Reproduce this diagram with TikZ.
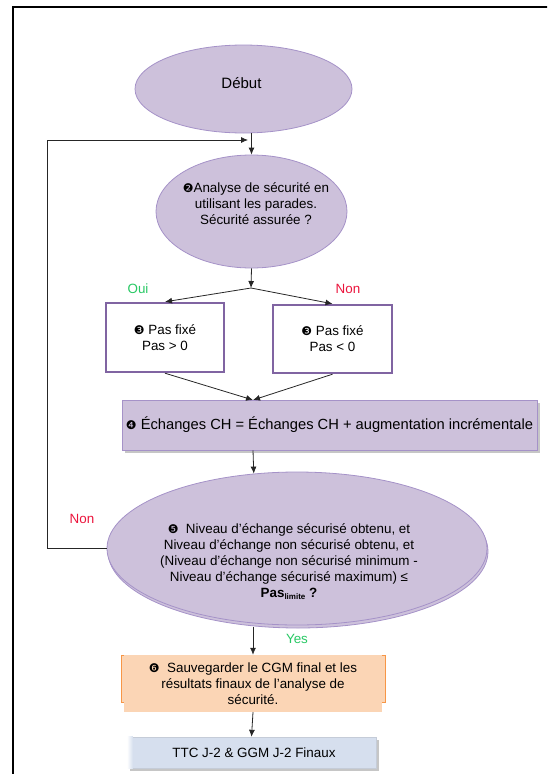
\documentclass[tikz,border=0pt]{standalone}
\usepackage{fontspec}
\setmainfont{Liberation Sans}
\newfontfamily\dingf{DejaVu Sans}
\usetikzlibrary{arrows.meta,shapes.geometric,shadows}

\definecolor{lavfill}{RGB}{205,193,219}
\definecolor{lavedge}{RGB}{165,146,200}
\definecolor{purpedge}{RGB}{128,100,162}
\definecolor{peach}{RGB}{251,213,181}
\definecolor{orangeedge}{RGB}{247,150,70}
\definecolor{bluefill}{RGB}{214,223,238}
\definecolor{ouigreen}{RGB}{40,200,100}
\definecolor{nonred}{RGB}{235,20,60}

\newcommand{\dnum}[1]{{\dingf\fontsize{12}{12}\selectfont #1}}

\tikzset{
  oval/.style={ellipse, draw=lavedge, fill=lavfill, line width=0.8pt, inner sep=0pt},
  txt/.style={align=center, inner sep=0pt, font=\fontsize{13.4}{16}\selectfont},
  stepbox/.style={rectangle, draw=purpedge, fill=white, line width=2.4pt, inner sep=0pt,
    align=center, font=\fontsize{13.4}{16}\selectfont},
  wide/.style={rectangle, draw=lavedge, fill=lavfill, line width=0.6pt, inner sep=0pt,
    font=\fontsize{14.7}{17}\selectfont,
    drop shadow={shadow xshift=2.5pt, shadow yshift=-2.5pt, opacity=0.45, fill=gray}},
  arr/.style={draw=black!85, line width=0.8pt, -{Latex[length=7pt,width=6pt]}},
  lbl/.style={inner sep=0pt, font=\fontsize{13.4}{16}\selectfont}
}

\begin{document}
\begin{tikzpicture}[x=1pt,y=-1pt]
\useasboundingbox (0,0) rectangle (547,774);
\clip (0,0) rectangle (547,774);

% page frame
\draw[line width=1.6pt] (13,800) -- (13,7) -- (570,7);

% start
\node[oval, minimum width=217pt, minimum height=88pt] (deb) at (243.5,89) {};
\node[txt, font=\fontsize{15}{17}\selectfont] (debtxt) at (241.5,83) {Début};

% security analysis
\node[oval, minimum width=191pt, minimum height=113pt] (e2) at (251.5,211.5) {};
\node[txt] (e2txt) at (256,204) {\dnum{❷}Analyse de sécurité en\\utilisant les parades.\\Sécurité assurée ?};

% fixed steps
\node[stepbox, minimum width=118pt, minimum height=69pt] (s3a) at (165,337.5)
  {\dnum{❸} Pas fixé\\Pas > 0};
\node[stepbox, minimum width=119pt, minimum height=68pt] (s3b) at (332.5,339)
  {\dnum{❸} Pas fixé\\Pas < 0};

% exchange update
\node[wide, minimum width=415pt, minimum height=50pt] (b4) at (329.5,425)
  {\dnum{❹} Échanges CH = Échanges CH + augmentation incrémentale};

% convergence test
\node[oval, minimum width=380pt, minimum height=153pt,
  copy shadow={shadow xshift=1pt, shadow yshift=-3pt}] (e5) at (297,548.5) {};
\node[txt] (e5txt) at (289,562) {\dnum{❺}\ \ Niveau d'échange sécurisé obtenu, et\\
  Niveau d'échange non sécurisé obtenu, et\\
  (Niveau d'échange non sécurisé minimum -\\
  Niveau d'échange sécurisé maximum) ≤\\
  {\bfseries Pas\raisebox{-2pt}{\fontsize{8}{9}\selectfont limite} ?}};

% save results
\draw[orangeedge, fill=peach, line width=1pt] (121.5,655) rectangle (385,702);
\node[rectangle, fill=peach, inner sep=0pt, minimum width=258pt, minimum height=57pt,
  txt] (b6) at (253,683.5)
  {\dnum{❻}\ \ Sauvegarder le CGM final et les\\résultats finaux de l’analyse de\\sécurité.};

% final outputs
\node[rectangle, fill=bluefill, draw=bluefill!80!gray, line width=0.4pt, inner sep=0pt,
  minimum width=249pt, minimum height=31pt,
  drop shadow={shadow xshift=2.5pt, shadow yshift=-2.5pt, opacity=0.45, fill=gray}]
  (b7) at (251.5,752.5) {};
\shade[left color=white, right color=bluefill] (b7.north west) rectangle ([xshift=6pt]b7.south west);
\node[txt] (b7txt) at (254,753) {TTC J-2 \& GGM J-2 Finaux};

% connectors
\coordinate (br) at (251,288);
\coordinate (in4) at (253,400);
\coordinate (lx) at (47,140);
\coordinate (jn) at (248,140);

\draw[arr] (e2.north |- deb.south) -- (e2.north);
\draw[arr] (e2.south) -- (br);
\draw[arr] (br) -- (s3a.north);
\draw[arr] (br) -- (s3b.north);
\draw[arr] (s3a.south) -- (in4);
\draw[arr] (s3b.south) -- (in4);
\draw[arr] (in4 |- b4.south) -- (e5.120);
\draw[arr] (b6.north |- e5.south) ++(0,2) -- (b6.north);
\draw[arr] (b6.south) -- (b7.north);
\draw[arr] (e5.west) -| (lx) -- (jn);

% branch labels
\node[lbl, text=ouigreen] (oui) at (138,289) {Oui};
\node[lbl, text=nonred] (non1) at (348,289) {Non};
\node[lbl, text=nonred] (non2) at (82,519) {Non};
\node[lbl, text=ouigreen] (yes) at (297,639) {Yes};
\end{tikzpicture}
\end{document}
